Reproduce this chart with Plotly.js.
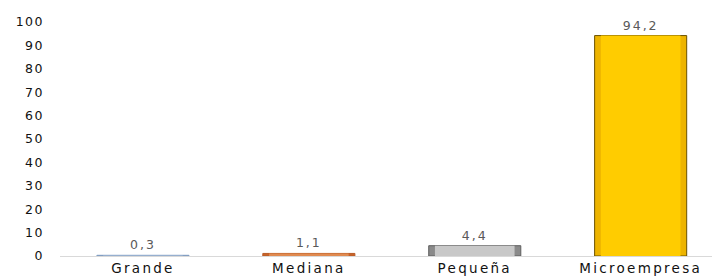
<!DOCTYPE html>
<html>
<head>
<meta charset="utf-8">
<script src="https://cdn.plot.ly/plotly-3.0.1.min.js"></script>
<style>
html,body{margin:0;padding:0;background:#fff;}
#chart{width:712px;height:276px;}
#chart .xtick text{letter-spacing:2.3px;}
#chart .ytick text{letter-spacing:1.5px;}
#chart text.bartext{letter-spacing:2px;}
</style>
</head>
<body>
<div id="chart"></div>
<script>
const categories = ["Grande", "Mediana", "Pequeña", "Microempresa"];
const values = [0.3, 1.1, 4.4, 94.2];
const yTicks = [0, 10, 20, 30, 40, 50, 60, 70, 80, 90, 100];

const edgeColors = ["#7F9CC0", "#C8642A", "#8A8A8A", "#EDB400"];
const lineColors = ["#7F9CC0", "#B85A25", "#5E5E5E", "#6B5200"];
const faceColors = ["#9DB5D3", "#E08A50", "#C8C8C8", "#FFCC00"];

const labelFont = {family: "DejaVu Sans, sans-serif", size: 12.5, color: "#595959"};

const outer = {
  type: "bar", x: categories, y: values, width: 0.555,
  marker: {color: edgeColors, line: {color: lineColors, width: 1}},
  texttemplate: "%{y:.1f}", textposition: "outside", cliponaxis: false,
  textfont: labelFont, outsidetextfont: labelFont,
  hoverinfo: "skip", showlegend: false
};
const inner = {
  type: "bar", x: categories, y: values, width: 0.48,
  marker: {color: faceColors, line: {width: 0}},
  hoverinfo: "skip", showlegend: false
};

const layout = {
  width: 712, height: 276,
  margin: {l: 60, r: 0, t: 22, b: 20},
  paper_bgcolor: "#fff", plot_bgcolor: "#fff",
  separators: ",.",
  barmode: "overlay",
  font: {family: "DejaVu Sans, sans-serif", color: "#000"},
  xaxis: {
    type: "category", range: [-0.5, 3.43], fixedrange: true,
    showline: true, linecolor: "#D9D9D9", linewidth: 1,
    showgrid: false, zeroline: false, ticks: "",
    tickfont: {size: 13.5, color: "#111"}, ticklabelstandoff: 0, automargin: false
  },
  yaxis: {
    range: [0, 100], tickvals: yTicks, ticktext: yTicks.map(String),
    showgrid: false, zeroline: false, showline: false, ticks: "",
    tickfont: {size: 12.5, color: "#111"}, ticklabelstandoff: 15, automargin: false
  }
};

Plotly.newPlot("chart", [outer, inner], layout, {staticPlot: true, displayModeBar: false});
</script>
</body>
</html>
